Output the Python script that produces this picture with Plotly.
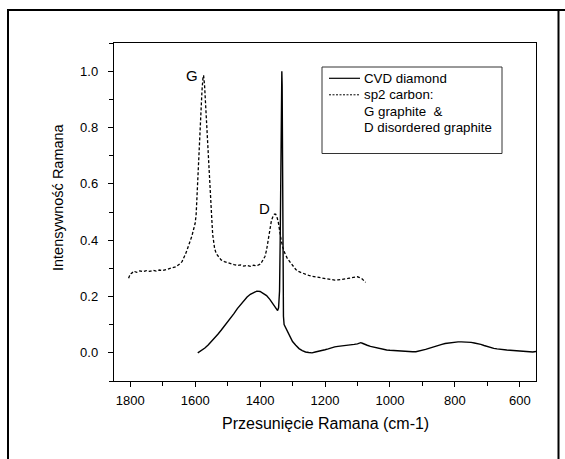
import plotly.graph_objects as go

# ---------------- data ----------------
sp2_x = [1805, 1800, 1795, 1790, 1780, 1770, 1760, 1750, 1740, 1730, 1720, 1710, 1700, 1690, 1680,
         1670, 1660, 1650, 1645, 1640, 1635, 1630, 1625, 1620, 1615, 1610, 1605, 1600, 1597, 1594,
         1591, 1588, 1585, 1582, 1579, 1576, 1574, 1571, 1568, 1565, 1561, 1557, 1553, 1549, 1546,
         1543, 1540, 1535, 1530, 1525, 1520, 1510, 1500, 1490, 1480, 1470, 1460, 1450, 1440, 1430,
         1420, 1410, 1400, 1395, 1390, 1385, 1380, 1375, 1370, 1365, 1360, 1356, 1352, 1348, 1344,
         1340, 1335, 1330, 1324, 1316, 1308, 1300, 1295, 1290, 1280, 1270, 1260, 1250, 1240, 1230,
         1220, 1210, 1200, 1190, 1180, 1170, 1160, 1150, 1140, 1130, 1120, 1110, 1100, 1095, 1090,
         1085, 1080, 1075]
sp2_y = [0.265, 0.280, 0.283, 0.290, 0.286, 0.291, 0.288, 0.292, 0.289, 0.293, 0.290, 0.294, 0.292, 0.296, 0.298,
         0.302, 0.305, 0.312, 0.318, 0.325, 0.336, 0.350, 0.365, 0.385, 0.398, 0.415, 0.435, 0.460, 0.490, 0.560,
         0.650, 0.740, 0.820, 0.880, 0.930, 0.975, 0.985, 0.950, 0.880, 0.820, 0.730, 0.640, 0.560, 0.480, 0.420,
         0.385, 0.370, 0.352, 0.343, 0.335, 0.330, 0.324, 0.320, 0.315, 0.313, 0.310, 0.312, 0.308, 0.310, 0.307,
         0.311, 0.309, 0.315, 0.322, 0.330, 0.342, 0.365, 0.400, 0.445, 0.470, 0.485, 0.492, 0.492, 0.482, 0.465,
         0.430, 0.400, 0.375, 0.354, 0.335, 0.323, 0.310, 0.302, 0.296, 0.288, 0.283, 0.279, 0.275, 0.272, 0.270,
         0.268, 0.266, 0.264, 0.262, 0.260, 0.258, 0.259, 0.260, 0.262, 0.264, 0.266, 0.268, 0.270, 0.268, 0.266,
         0.262, 0.256, 0.250]

cvd_x = [1592, 1580, 1570, 1560, 1550, 1540, 1530, 1520, 1510, 1500, 1490, 1480, 1470, 1460, 1450,
         1440, 1430, 1420, 1410, 1400, 1390, 1380, 1370, 1362, 1355, 1350, 1346, 1343, 1340, 1338,
         1336, 1334, 1333, 1332, 1331, 1330, 1329, 1328, 1326, 1322, 1316, 1310, 1305, 1300, 1290,
         1280, 1270, 1260, 1250, 1240, 1230, 1220, 1210, 1200, 1190, 1180, 1170, 1160, 1150, 1140,
         1130, 1120, 1110, 1100, 1090, 1085, 1080, 1070, 1060, 1050, 1040, 1030, 1020, 1010, 1000,
         990, 980, 970, 960, 950, 940, 930, 920, 910, 900, 890, 880, 870, 860, 850,
         840, 830, 820, 810, 800, 790, 780, 770, 760, 750, 740, 730, 720, 710, 700,
         690, 680, 670, 660, 650, 640, 630, 620, 610, 600, 590, 580, 570, 560, 550]
cvd_y = [0.000, 0.008, 0.017, 0.028, 0.040, 0.052, 0.066, 0.080, 0.095, 0.110, 0.122, 0.140, 0.157, 0.172, 0.186,
         0.198, 0.208, 0.215, 0.219, 0.218, 0.212, 0.203, 0.190, 0.175, 0.162, 0.153, 0.150, 0.160, 0.220, 0.400,
         0.750, 0.970, 1.000, 0.950, 0.700, 0.400, 0.200, 0.130, 0.100, 0.090, 0.078, 0.063, 0.050, 0.040, 0.027,
         0.015, 0.008, 0.003, 0.001, 0.000, 0.003, 0.005, 0.008, 0.011, 0.014, 0.018, 0.021, 0.023, 0.024, 0.025,
         0.027, 0.028, 0.030, 0.032, 0.036, 0.034, 0.031, 0.027, 0.023, 0.020, 0.017, 0.014, 0.012, 0.010, 0.009,
         0.008, 0.007, 0.007, 0.006, 0.005, 0.004, 0.004, 0.004, 0.006, 0.009, 0.012, 0.016, 0.020, 0.024, 0.027,
         0.030, 0.033, 0.035, 0.037, 0.038, 0.039, 0.039, 0.039, 0.038, 0.037, 0.035, 0.033, 0.030, 0.026, 0.022,
         0.019, 0.016, 0.014, 0.012, 0.011, 0.010, 0.009, 0.008, 0.007, 0.006, 0.006, 0.005, 0.004, 0.003, 0.005]

x_ticks = [1800, 1600, 1400, 1200, 1000, 800, 600]
y_ticks = [0.0, 0.2, 0.4, 0.6, 0.8, 1.0]

legend_lines = ["CVD diamond", "sp2 carbon:", "G graphite  &", "D disordered graphite"]
peak_labels = [("G", 1609, 0.986), ("D", 1386, 0.512)]

FONT = "Liberation Sans, Arial, sans-serif"

fig = go.Figure()
fig.add_trace(go.Scatter(x=cvd_x, y=cvd_y, mode="lines",
                         line=dict(color="black", width=1.4), name="CVD diamond"))
fig.add_trace(go.Scatter(x=sp2_x, y=sp2_y, mode="lines",
                         line=dict(color="black", width=1.3, dash="3px,2px"), name="sp2 carbon"))

fig.update_layout(
    width=565, height=459,
    margin=dict(l=114, r=29, t=43, b=78),
    plot_bgcolor="white", paper_bgcolor="white",
    showlegend=False,
    font=dict(family=FONT, color="black"),
)
fig.update_xaxes(range=[1850, 550], tickvals=x_ticks, ticks="outside", ticklen=5, tickwidth=1.2,
                 tickcolor="black", showgrid=False, zeroline=False, showline=True, mirror=True,
                 linecolor="black", linewidth=1.4, tickfont=dict(size=13, family=FONT),
                 ticklabelstandoff=2,
                 minor=dict(dtick=100, tick0=0, ticks="outside", ticklen=4, tickcolor="black", showgrid=False))
fig.update_yaxes(range=[-0.1, 1.1], tickvals=y_ticks, tickformat=".1f", ticks="outside", ticklen=5,
                 tickwidth=1.2, tickcolor="black", showgrid=False, zeroline=False, showline=True, mirror=True,
                 linecolor="black", linewidth=1.4, tickfont=dict(size=13, family=FONT),
                 ticklabelstandoff=7,
                 minor=dict(dtick=0.1, tick0=0, ticks="outside", ticklen=4, tickcolor="black", showgrid=False))

def px_x(px):
    return (px - 114) / 422.0

def px_y(py):
    return (381.0 - py) / 338.0

shapes = []
# outer frame (left, top, right)
shapes.append(dict(type="line", xref="paper", yref="paper", x0=px_x(8), x1=px_x(8), y0=px_y(9), y1=px_y(470),
                   line=dict(color="black", width=2)))
shapes.append(dict(type="line", xref="paper", yref="paper", x0=px_x(7), x1=px_x(570), y0=px_y(10), y1=px_y(10),
                   line=dict(color="black", width=2)))
shapes.append(dict(type="line", xref="paper", yref="paper", x0=px_x(558.5), x1=px_x(558.5), y0=px_y(9), y1=px_y(470),
                   line=dict(color="black", width=2)))
# legend box
shapes.append(dict(type="rect", xref="paper", yref="paper", x0=px_x(322), x1=px_x(502), y0=px_y(153.5), y1=px_y(67),
                   line=dict(color="#333333", width=1)))
shapes.append(dict(type="line", xref="paper", yref="paper", x0=px_x(329), x1=px_x(360), y0=px_y(78.3), y1=px_y(78.3),
                   line=dict(color="black", width=1.2)))
shapes.append(dict(type="line", xref="paper", yref="paper", x0=px_x(329), x1=px_x(360), y0=px_y(94.8), y1=px_y(94.8),
                   line=dict(color="black", width=1, dash="2px,1.5px")))
fig.update_layout(shapes=shapes)

annotations = []
for txt, yy in zip(legend_lines, [78.3, 94.8, 111, 127.3]):
    annotations.append(dict(text=txt, xref="paper", yref="paper", x=px_x(362), y=px_y(yy),
                            xanchor="left", yanchor="middle", showarrow=False,
                            font=dict(size=13.3, family=FONT, color="black")))
for txt, xx, yy in peak_labels:
    annotations.append(dict(text=txt, x=xx, y=yy, xref="x", yref="y", showarrow=False,
                            xanchor="center", yanchor="middle", font=dict(size=15, family=FONT, color="black")))
annotations.append(dict(text="Przesunięcie Ramana (cm-1)", xref="paper", yref="paper", x=px_x(325), y=px_y(423),
                        xanchor="center", yanchor="middle", showarrow=False,
                        font=dict(size=16, family=FONT, color="black")))
annotations.append(dict(text="Intensywność Ramana", xref="paper", yref="paper", x=px_x(58), y=px_y(197),
                        xanchor="center", yanchor="middle", showarrow=False, textangle=-90,
                        font=dict(size=14.5, family=FONT, color="black")))
fig.update_layout(annotations=annotations)

fig.write_html("out.html")
